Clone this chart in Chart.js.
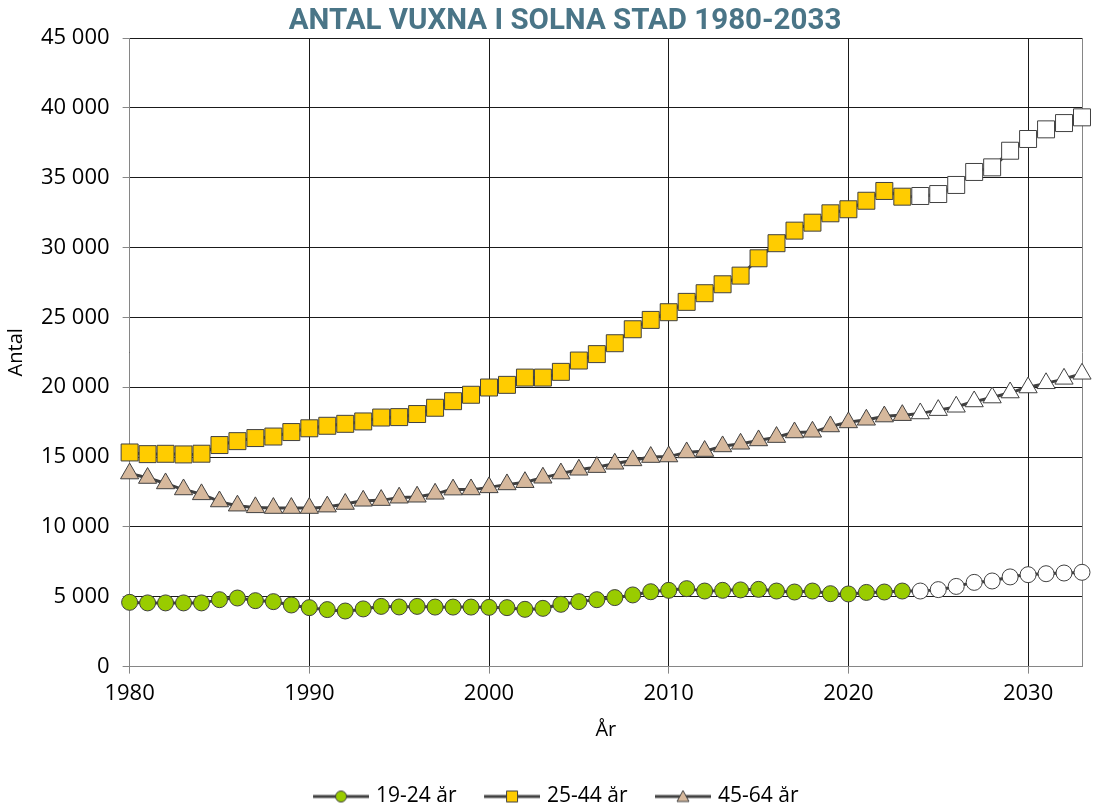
<!DOCTYPE html>
<html>
<head>
<meta charset="utf-8">
<script src="https://cdn.jsdelivr.net/npm/chart.js@4.4.1/dist/chart.umd.min.js"></script>
<style>
  html, body { margin: 0; padding: 0; background: #ffffff; }
  #wrap { width: 1095px; height: 811px; position: relative; }
</style>
</head>
<body>
<div id="wrap"><canvas id="c"></canvas></div>
<script>
// ---- Data ----
const chartTitle = 'ANTAL VUXNA I SOLNA STAD 1980-2033';
const years = [1980,1981,1982,1983,1984,1985,1986,1987,1988,1989,
               1990,1991,1992,1993,1994,1995,1996,1997,1998,1999,
               2000,2001,2002,2003,2004,2005,2006,2007,2008,2009,
               2010,2011,2012,2013,2014,2015,2016,2017,2018,2019,
               2020,2021,2022,2023,2024,2025,2026,2027,2028,2029,
               2030,2031,2032,2033];
const seriesNames = ['19-24 år', '25-44 år', '45-64 år'];
const age19_24 = [4600,4560,4560,4560,4560,4790,4910,4720,4650,4410,
                  4220,4080,3980,4130,4310,4270,4310,4260,4260,4260,
                  4240,4220,4100,4170,4460,4650,4790,4940,5130,5360,
                  5460,5580,5410,5460,5490,5530,5410,5340,5410,5220,
                  5200,5310,5340,5410,5410,5510,5740,6030,6130,6420,
                  6580,6650,6700,6750];
const age25_44 = [15330,15210,15235,15190,15240,15860,16140,16360,16470,16790,
                  17060,17240,17380,17550,17830,17860,18080,18530,19000,19460,
                  19980,20170,20690,20690,21100,21910,22370,23150,24150,24820,
                  25370,26110,26730,27370,27990,29230,30310,31210,31780,32450,
                  32740,33350,34050,33640,33690,33830,34480,35410,35740,36930,
                  37770,38460,38910,39320];
const age45_64 = [13820,13500,13110,12680,12330,11820,11520,11400,11350,11350,
                  11350,11450,11640,11870,11920,12090,12160,12370,12670,12680,
                  12830,13040,13200,13520,13820,14090,14280,14520,14760,15000,
                  15040,15330,15430,15760,15950,16190,16430,16760,16810,17190,
                  17480,17670,17900,18000,18120,18360,18600,18980,19260,19620,
                  19980,20280,20600,20960];
const forecastStart = 2024;
const yTickValues = [0,5000,10000,15000,20000,25000,30000,35000,40000,45000];
const xTickValues = [1980,1990,2000,2010,2020,2030];

// ---- Styles ----
const FONT = "'Open Sans', 'DejaVu Sans', sans-serif";
const lineColor = '#404040';
const markerBorder = '#404040';
const fills = ['#99CC00', '#FFCC00', '#D6B89C'];
const styles = ['circle', 'rect', 'triangle'];
const radii = [8, 12, 10.5];

function toPoints(vals) { return years.map((yr, i) => ({ x: yr, y: vals[i] })); }
function fmtThousands(v) { return String(v).replace(/\B(?=(\d{3})+(?!\d))/g, ' '); }

function makeLegendIcon(style, fill) {
  const margin = 31, lineLen = 56, h = 16;
  const c = document.createElement('canvas');
  c.width = margin + lineLen; c.height = h;
  const g = c.getContext('2d');
  g.strokeStyle = lineColor; g.lineWidth = 3;
  g.beginPath(); g.moveTo(margin, h / 2); g.lineTo(margin + lineLen, h / 2); g.stroke();
  const cx = margin + lineLen / 2, cy = h / 2;
  g.fillStyle = fill; g.strokeStyle = markerBorder; g.lineWidth = 1;
  g.beginPath();
  if (style === 'circle') { g.arc(cx, cy, 5.5, 0, Math.PI * 2); }
  else if (style === 'rect') { g.rect(cx - 5.5, cy - 5.5, 11, 11); }
  else { g.moveTo(cx, cy - 6); g.lineTo(cx + 6, cy + 5); g.lineTo(cx - 6, cy + 5); g.closePath(); }
  g.fill(); g.stroke();
  return c;
}
const legendIcons = styles.map((s, i) => makeLegendIcon(s, fills[i]));

const allSeries = [age19_24, age25_44, age45_64];
const datasets = allSeries.map((vals, i) => ({
  label: seriesNames[i],
  data: toPoints(vals),
  clip: false,
  borderColor: lineColor,
  borderWidth: 3,
  tension: 0.25,
  pointStyle: styles[i],
  pointRadius: radii[i],
  pointHoverRadius: radii[i],
  pointBorderColor: markerBorder,
  pointBorderWidth: 1,
  pointBackgroundColor: (ctx) => (ctx.raw && ctx.raw.x >= forecastStart) ? '#ffffff' : fills[i]
}));

const titlePlugin = {
  id: 'customTitle',
  afterDraw(chart) {
    const ctx = chart.ctx;
    ctx.save();
    ctx.font = "bold 29.5px Roboto, 'DejaVu Sans', sans-serif";
    ctx.fillStyle = '#4A7587';
    ctx.textAlign = 'center';
    ctx.textBaseline = 'alphabetic';
    ctx.fillText(chartTitle, 565, 29);
    ctx.restore();
  }
};

new Chart(document.getElementById('c'), {
  type: 'line',
  data: { datasets },
  plugins: [titlePlugin],
  options: {
    responsive: true,
    maintainAspectRatio: false,
    animation: false,
    events: [],
    layout: { padding: { top: 38, right: 12, bottom: -6, left: 1 } },
    plugins: {
      title: { display: false },
      tooltip: { enabled: false },
      legend: {
        position: 'bottom',
        labels: {
          usePointStyle: true,
          pointStyleWidth: 80,
          padding: 0,
          color: '#000',
          font: { family: FONT, size: 21 },
          generateLabels: (chart) => chart.data.datasets.map((ds, i) => ({
            text: ds.label,
            pointStyle: legendIcons[i],
            fillStyle: fills[i],
            strokeStyle: markerBorder,
            lineWidth: 0,
            hidden: false,
            datasetIndex: i,
            fontColor: '#000'
          }))
        }
      }
    },
    scales: {
      x: {
        type: 'linear',
        min: 1980,
        max: 2033,
        afterBuildTicks: (axis) => { axis.ticks = xTickValues.map(v => ({ value: v })); },
        ticks: {
          color: '#000',
          font: { family: FONT, size: 22 },
          padding: 7,
          maxRotation: 0,
          callback: (v) => String(v)
        },
        grid: { color: '#1a1a1a', lineWidth: 1, tickLength: 7, tickColor: '#868686' },
        border: { display: true, color: '#868686', width: 1 },
        title: {
          display: true, text: 'År', color: '#000',
          font: { family: FONT, size: 20 },
          padding: { top: 4, bottom: 44 }
        }
      },
      y: {
        type: 'linear',
        min: 0,
        max: 45000,
        afterBuildTicks: (axis) => { axis.ticks = yTickValues.map(v => ({ value: v })); },
        ticks: {
          color: '#000',
          font: { family: FONT, size: 22 },
          padding: 13,
          callback: (v) => fmtThousands(v)
        },
        grid: { color: '#1a1a1a', lineWidth: 1, tickLength: 7, tickColor: '#868686' },
        border: { display: true, color: '#868686', width: 1 },
        title: {
          display: true, text: 'Antal', color: '#000',
          font: { family: FONT, size: 20 },
          padding: { top: 3, bottom: 0 }
        }
      },
      yRight: {
        type: 'linear',
        position: 'right',
        min: 0,
        max: 45000,
        grid: { display: false, drawTicks: false },
        ticks: { display: false },
        border: { display: true, color: '#868686', width: 1 }
      }
    }
  }
});
</script>
</body>
</html>
